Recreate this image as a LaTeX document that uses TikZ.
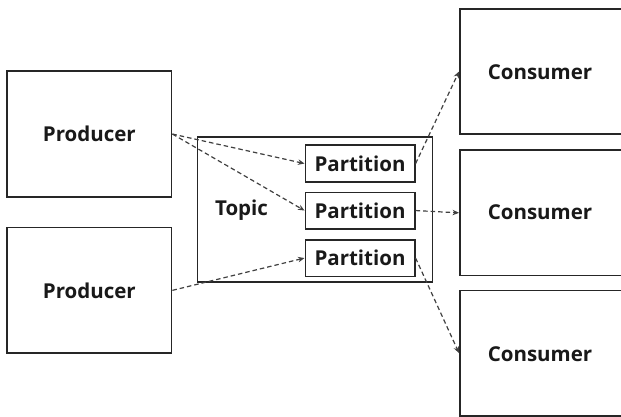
\documentclass[tikz,border=0pt]{standalone}
\usepackage{fontspec}
\setmainfont{Open Sans}
\usetikzlibrary{arrows.meta}
\begin{document}
\begin{tikzpicture}[x=1pt,y=-1pt,
  box/.style={draw=black!85,line width=1.6pt},
  lbl/.style={font=\fontsize{20.5}{22}\selectfont\bfseries,text=black!90},
  conn/.style={draw=black!75,line width=1.2pt,dash pattern=on 4.5pt off 3pt,-{Stealth[length=6.5pt,width=5.5pt]}}]
\useasboundingbox (0,0) rectangle (621,417);
\clip (0,0) rectangle (621,417);
\fill[white] (0,0) rectangle (621,417);
% producers
\node[box,minimum width=164.5pt,minimum height=125.5pt,anchor=north west] (p1) at (6.3,70.5) {};
\node[lbl] at (p1.center) {Producer};
\node[box,minimum width=164.5pt,minimum height=125.5pt,anchor=north west] (p2) at (6.3,226.8) {};
\node[lbl] at (p2.center) {Producer};
% topic
\node[box,minimum width=235pt,minimum height=145pt,anchor=north west] (topic) at (196.8,136) {};
\node[lbl] (tlabel) at (241.5,210) {Topic};
% partitions
\node[box,minimum width=109.5pt,minimum height=36.5pt,anchor=north west] (q1) at (304.5,144.5) {};
\node[lbl] at (q1.center) {Partition};
\node[box,minimum width=109.5pt,minimum height=36.5pt,anchor=north west] (q2) at (304.5,191.5) {};
\node[lbl] at (q2.center) {Partition};
\node[box,minimum width=109.5pt,minimum height=36.5pt,anchor=north west] (q3) at (304.5,239) {};
\node[lbl] at (q3.center) {Partition};
% consumers
\node[box,minimum width=164pt,minimum height=125.5pt,anchor=north west] (c1) at (459,8) {};
\node[lbl] at (540,72) {Consumer};
\node[box,minimum width=164pt,minimum height=125.5pt,anchor=north west] (c2) at (459,149.3) {};
\node[lbl] at (540,212) {Consumer};
\node[box,minimum width=164pt,minimum height=125.5pt,anchor=north west] (c3) at (459,289.5) {};
\node[lbl] at (540,354) {Consumer};
% connectors
\draw[conn] (p1.east) -- (q1.west);
\draw[conn] (p1.east) -- (q2.west);
\draw[conn] (p2.east) -- (q3.west);
\draw[conn] (q1.east) -- (c1.west);
\draw[conn] (q2.east) -- (c2.west);
\draw[conn] (q3.east) -- (c3.west);
\end{tikzpicture}
\end{document}
